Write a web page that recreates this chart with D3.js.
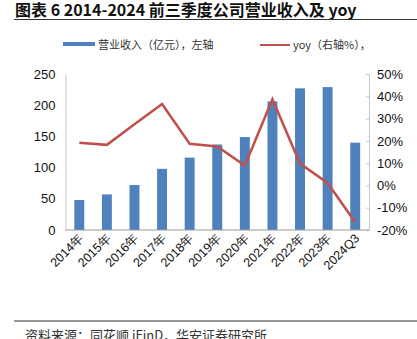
<!DOCTYPE html>
<html><head><meta charset="utf-8">
<script src="https://cdn.jsdelivr.net/npm/d3@7"></script>
<style>body{margin:0;background:#fff}svg{display:block}</style>
</head><body>
<script>
const categories = ["2014年","2015年","2016年","2017年","2018年","2019年","2020年","2021年","2022年","2023年","2024Q3"];
const revenue = [48, 57, 72, 98, 116, 137, 149, 206, 227, 229, 140];
const yoy = [19.1, 18.2, 27.4, 36.5, 18.7, 17.5, 8.9, 38.7, 9.8, 1.1, -16.5];
const leftTicks = [0, 50, 100, 150, 200, 250];
const rightTicks = [-20, -10, 0, 10, 20, 30, 40, 50];
const title = "图表 6 2014-2024 前三季度公司营业收入及 yoy";
const legendLabels = ["营业收入（亿元），左轴", "yoy（右轴%），"];
const source = "资料来源：同花顺 iFinD，华安证券研究所";

const W = 417, H = 339;
const svg = d3.select("body").append("svg").attr("width", W).attr("height", H);
const x0 = 65.5, x1 = 369, yTop = 74, yBot = 230;
const x = d3.scaleBand().domain(categories).range([x0, x1]).paddingInner(0.64).paddingOuter(0.32);
const yL = d3.scaleLinear().domain([0, 250]).range([yBot, yTop]);
const yR = d3.scaleLinear().domain([-20, 50]).range([yBot, yTop]);
const cjk = "'Noto Sans CJK SC', sans-serif";
const lat = "'Liberation Sans', Arial, sans-serif";

// title
svg.append("text").attr("x", 15).attr("y", 16).attr("font-family", cjk).attr("font-weight", "bold")
  .attr("font-size", 16).attr("fill", "#111").text(title);
svg.append("line").attr("x1", 14).attr("x2", W).attr("y1", 19.5).attr("y2", 19.5).attr("stroke", "#333").attr("stroke-width", 1);

// legend
svg.append("rect").attr("x", 63).attr("y", 42).attr("width", 32).attr("height", 4).attr("fill", "#4f81bd");
svg.append("text").attr("x", 98).attr("y", 48.5).attr("font-family", cjk).attr("font-size", 11).attr("fill", "#333").text(legendLabels[0]);
svg.append("line").attr("x1", 260).attr("x2", 290).attr("y1", 45).attr("y2", 45).attr("stroke", "#c0504d").attr("stroke-width", 2);
svg.append("text").attr("x", 293).attr("y", 48.5).attr("font-family", cjk).attr("font-size", 11).attr("fill", "#333").text(legendLabels[1]);

// bars
svg.append("g").selectAll("rect").data(revenue).join("rect")
  .attr("x", (d, i) => x(categories[i])).attr("width", x.bandwidth())
  .attr("y", d => yL(d)).attr("height", d => yBot - yL(d)).attr("fill", "#4f81bd");

// left axis
const gL = svg.append("g").attr("transform", `translate(${x0},0)`)
  .call(d3.axisLeft(yL).tickValues(leftTicks).tickSize(0).tickPadding(10));
gL.select(".domain").attr("stroke", "#c8c8c8");
gL.selectAll("text").attr("font-family", lat).attr("font-size", 13).attr("fill", "#111");

// right axis
const gR = svg.append("g").attr("transform", `translate(${x1},0)`)
  .call(d3.axisRight(yR).tickValues(rightTicks).tickSize(-3).tickPadding(8).tickFormat(d => d + "%"));
gR.select(".domain").attr("stroke", "#c8c8c8");
gR.selectAll(".tick line").attr("stroke", "#c8c8c8");
gR.selectAll("text").attr("font-family", lat).attr("font-size", 13).attr("fill", "#111");

// x axis
const gX = svg.append("g").attr("transform", `translate(0,${yBot})`)
  .call(d3.axisBottom(x).tickSize(0).tickPadding(0));
gX.select(".domain").attr("stroke", "#999").attr("d", `M${x0},0H${x1}`);
gX.selectAll("text").attr("font-family", lat).attr("font-size", 12.5).attr("fill", "#111")
  .attr("text-anchor", "end").attr("dy", 0)
  .attr("transform", "translate(5,9) rotate(-45)");

// line
const line = d3.line().x((d, i) => x(categories[i]) + x.bandwidth() / 2).y(d => yR(d));
svg.append("path").datum(yoy).attr("d", line).attr("fill", "none").attr("stroke", "#c0504d").attr("stroke-width", 2.5);

// footer
svg.append("line").attr("x1", 14).attr("x2", W).attr("y1", 321).attr("y2", 321).attr("stroke", "#333").attr("stroke-width", 1);
svg.append("text").attr("x", 25).attr("y", 340).attr("font-family", cjk).attr("font-size", 13).attr("fill", "#333").text(source);
</script>
</body></html>
